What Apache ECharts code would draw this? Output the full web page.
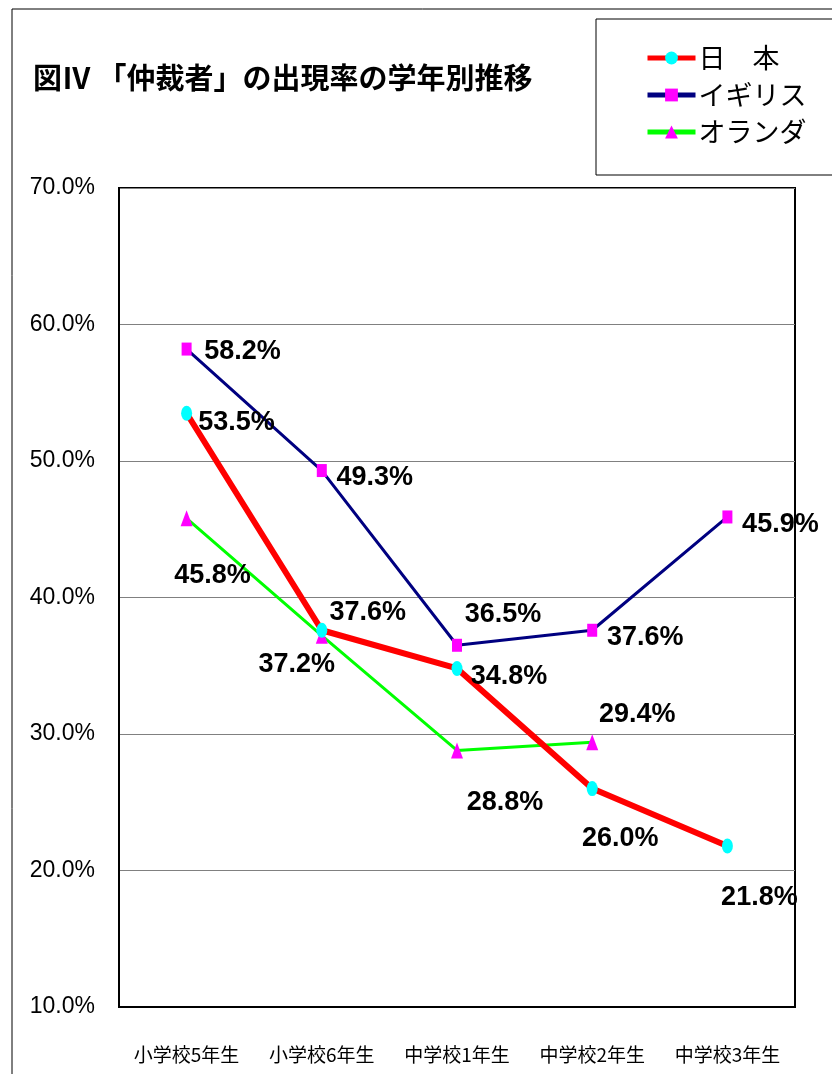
<!DOCTYPE html>
<html>
<head>
<meta charset="utf-8">
<script src="https://cdn.jsdelivr.net/npm/echarts@6/dist/echarts.min.js"></script>
<style>
    html, body {margin: 0; padding: 0; background: #fff;}
    #chart {width: 832px; height: 1074px;}
</style>
</head>
<body>
<div id="chart"></div>
<script>
const titleText = '図Ⅳ 「仲裁者」の出現率の学年別推移';
const grades = ['小学校5年生', '小学校6年生', '中学校1年生', '中学校2年生', '中学校3年生'];
const seriesNames = ['日　本', 'イギリス', 'オランダ'];

const japan = [53.5, 37.6, 34.8, 26.0, 21.8];
const uk = [58.2, 49.3, 36.5, 37.6, 45.9];
const netherlands = [45.8, 37.2, 28.8, 29.4, null];

// label offsets from each point, px
const japanLabelOffsets = [[50, 9], [46, -18], [52, 8], [28, 50], [32, 52]];
const ukLabelOffsets = [[56, 2], [53, 7], [46, -31], [53, 7], [53, 8]];
const nlLabelOffsets = [[26, 57], [-25, 29], [48, 52], [45, -28], [0, 0]];

const SANS = '"Liberation Sans", Arial, sans-serif';
const CJK = '"Noto Sans CJK JP", sans-serif';

function withLabels(values, offsets) {
    return values.map((v, i) => ({
        value: v,
        label: {offset: offsets[i]},
    }));
}

function labelStyle() {
    return {
        show: true,
        position: 'inside',
        align: 'center',
        verticalAlign: 'middle',
        color: '#000',
        fontFamily: SANS,
        fontWeight: 'bold',
        fontSize: 27,
        formatter: (p) => p.value.toFixed(1) + '%',
    };
}

const chart = echarts.init(document.getElementById('chart'), null, {renderer: 'canvas'});

chart.setOption({
    backgroundColor: '#fff',
    animation: false,
    title: {
        text: titleText,
        left: 28,
        top: 58,
        textStyle: {fontFamily: CJK, fontWeight: 'bold', fontSize: 29, color: '#000'},
    },
    graphic: [
        {type: 'rect', shape: {x: 12, y: 9, width: 900, height: 1100}, style: {fill: 'none', stroke: '#000', lineWidth: 1}},
        {type: 'rect', shape: {x: 596, y: 19, width: 300, height: 156}, style: {fill: 'none', stroke: '#000', lineWidth: 1}},
    ],
    legend: {
        orient: 'vertical',
        left: 640,
        top: 37,
        itemWidth: 48,
        itemHeight: 16,
        itemGap: 5,
        data: seriesNames,
        lineStyle: {width: 5},
        textStyle: {fontFamily: CJK, fontSize: 27, lineHeight: 32, color: '#000', padding: [0, 0, 0, -2]},
    },
    grid: {
        left: 119,
        right: 37,
        top: 188,
        bottom: 67,
        show: true,
        borderColor: '#000',
        borderWidth: 2,
    },
    xAxis: {
        type: 'category',
        data: grades,
        boundaryGap: true,
        axisLine: {lineStyle: {color: '#000', width: 2}},
        axisTick: {inside: true, length: 10, lineStyle: {color: '#000'}},
        axisLabel: {interval: 0, margin: 38, fontFamily: CJK, fontSize: 19, color: '#000'},
    },
    yAxis: {
        type: 'value',
        min: 10,
        max: 70,
        interval: 10,
        axisLine: {show: true, lineStyle: {color: '#000', width: 2}},
        axisTick: {show: false},
        splitLine: {lineStyle: {color: '#808080', width: 1}},
        axisLabel: {
            margin: 24,
            fontFamily: SANS,
            fontSize: 23,
            color: '#000',
            formatter: (v) => v.toFixed(1) + '%',
        },
    },
    series: [
        {
            name: seriesNames[0],
            type: 'line',
            data: withLabels(japan, japanLabelOffsets),
            lineStyle: {color: '#ff0000', width: 6},
            itemStyle: {color: '#00ffff'},
            symbol: 'circle',
            symbolSize: [11, 15],
            showAllSymbol: true,
            label: labelStyle(),
            z: 3,
        },
        {
            name: seriesNames[1],
            type: 'line',
            data: withLabels(uk, ukLabelOffsets),
            lineStyle: {color: '#000080', width: 3},
            itemStyle: {color: '#ff00ff'},
            symbol: 'rect',
            symbolSize: [10, 13],
            showAllSymbol: true,
            label: labelStyle(),
            z: 3,
        },
        {
            name: seriesNames[2],
            type: 'line',
            data: withLabels(netherlands, nlLabelOffsets),
            lineStyle: {color: '#00ff00', width: 3},
            itemStyle: {color: '#ff00ff'},
            symbol: 'triangle',
            symbolSize: [12, 16],
            showAllSymbol: true,
            label: labelStyle(),
            z: 2,
        },
    ],
});

window.addEventListener('resize', () => chart.resize());
</script>
</body>
</html>
